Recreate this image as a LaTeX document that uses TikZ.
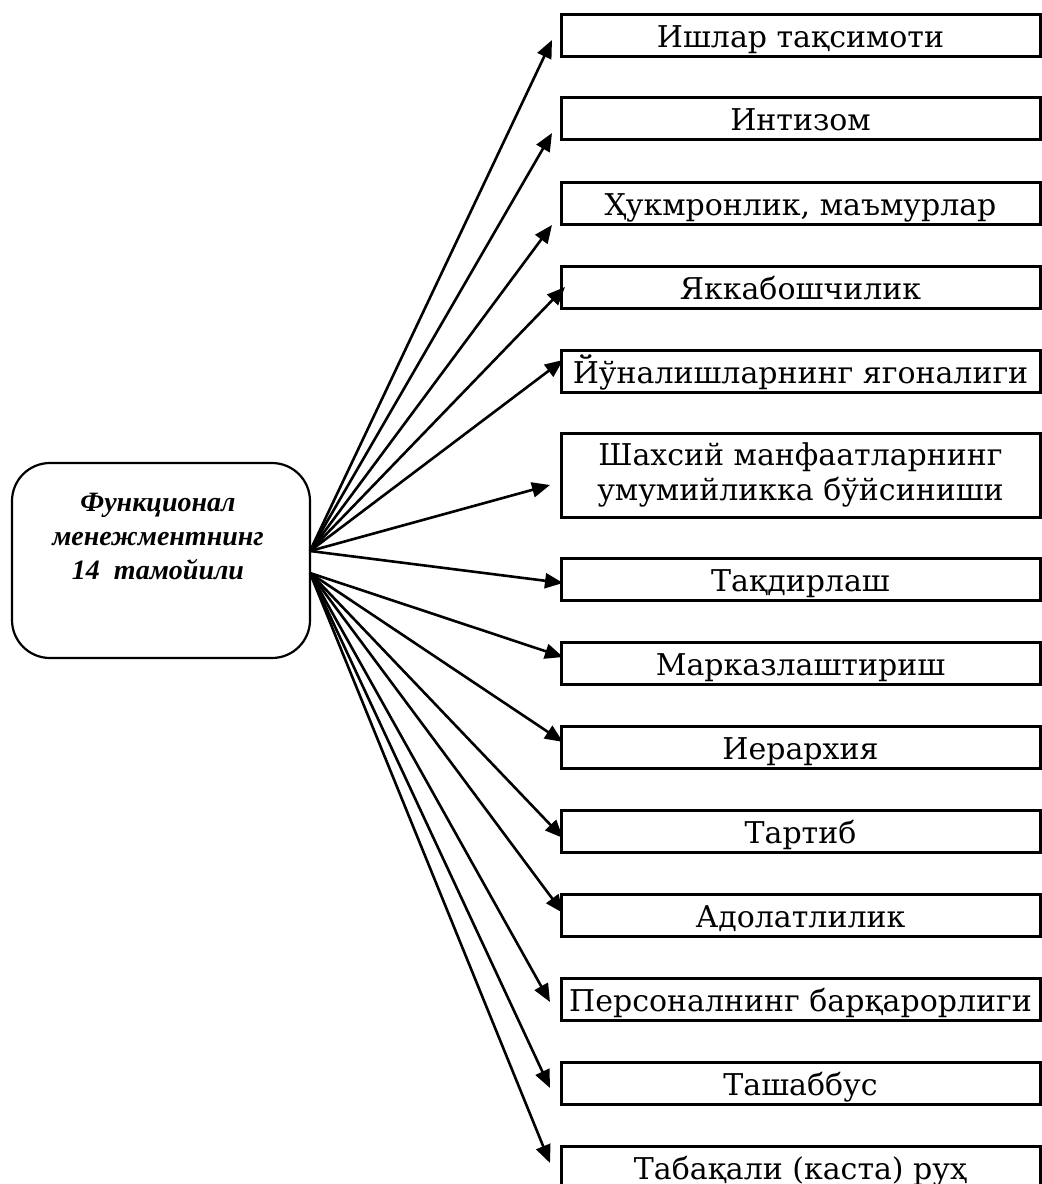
\documentclass[tikz,border=0pt]{standalone}
\usepackage{fontspec}
\setmainfont{DejaVu Serif}
\newfontfamily\leftfont{Liberation Serif}
\usetikzlibrary{arrows.meta}
\begin{document}
\begin{tikzpicture}[x=1pt,y=-1pt,
  itemfont/.style={font=\fontsize{30}{35}\selectfont},
  item/.style={draw,line width=3pt,rectangle,minimum width=479pt,minimum height=42pt,inner sep=0pt,itemfont,align=center,text height=27pt,text depth=3pt},
  itemtwo/.style={draw,line width=3pt,rectangle,minimum width=479pt,minimum height=84pt,inner sep=0pt,itemfont,align=center},
  conn/.style={line width=2.6pt,-{Triangle[length=18pt,width=15pt]}},
  mainbox/.style={draw,line width=2.2pt,rounded corners=38pt}]
\useasboundingbox (0,0) rectangle (1042,1184);
\node[mainbox,minimum width=298pt,minimum height=195pt,inner sep=0pt] (m) at (161,560.5) {};
\node[font=\leftfont\fontsize{28}{34}\selectfont\bfseries\itshape,align=center,anchor=north] (mt) at (158,490)
  {Функционал\\менежментнинг\\14\ \ тамойили};
\coordinate (o1) at (310,551);
\coordinate (o2) at (310,573);
\node[item] (b1) at (800.5,35) {Ишлар тақсимоти};
\node[item] (b2) at (800.5,118) {Интизом};
\node[item] (b3) at (800.5,203) {Ҳукмронлик, маъмурлар};
\node[item] (b4) at (800.5,287) {Яккабошчилик};
\node[item] (b5) at (800.5,371) {Йўналишларнинг ягоналиги};
\node[itemtwo] (b6) at (800.5,475) {Шахсий манфаатларнинг\\умумийликка бўйсиниши};
\node[item] (b7) at (800.5,579.5) {Тақдирлаш};
\node[item] (b8) at (800.5,663) {Марказлаштириш};
\node[item] (b9) at (800.5,747) {Иерархия};
\node[item] (b10) at (800.5,831) {Тартиб};
\node[item] (b11) at (800.5,915) {Адолатлилик};
\node[item] (b12) at (800.5,999) {Персоналнинг барқарорлиги};
\node[item] (b13) at (800.5,1083.5) {Ташаббус};
\node[item] (b14) at (800.5,1167) {Табақали (каста) руҳ};
\coordinate (t1) at (552,40);
\coordinate (t2) at (552,133);
\coordinate (t3) at (552,225);
\coordinate (t4) at (565,287);
\coordinate (t5) at (563,360);
\coordinate (t6) at (550,485);
\coordinate (t7) at (563,583);
\coordinate (t8) at (563,657);
\coordinate (t9) at (563,742);
\coordinate (t10) at (563,838);
\coordinate (t11) at (563,913);
\coordinate (t12) at (550,1002);
\coordinate (t13) at (550,1088);
\coordinate (t14) at (550,1163);
\foreach \i in {1,...,7} {\draw[conn] (o1) -- (t\i);}
\foreach \i in {8,...,14} {\draw[conn] (o2) -- (t\i);}
\end{tikzpicture}
\end{document}
